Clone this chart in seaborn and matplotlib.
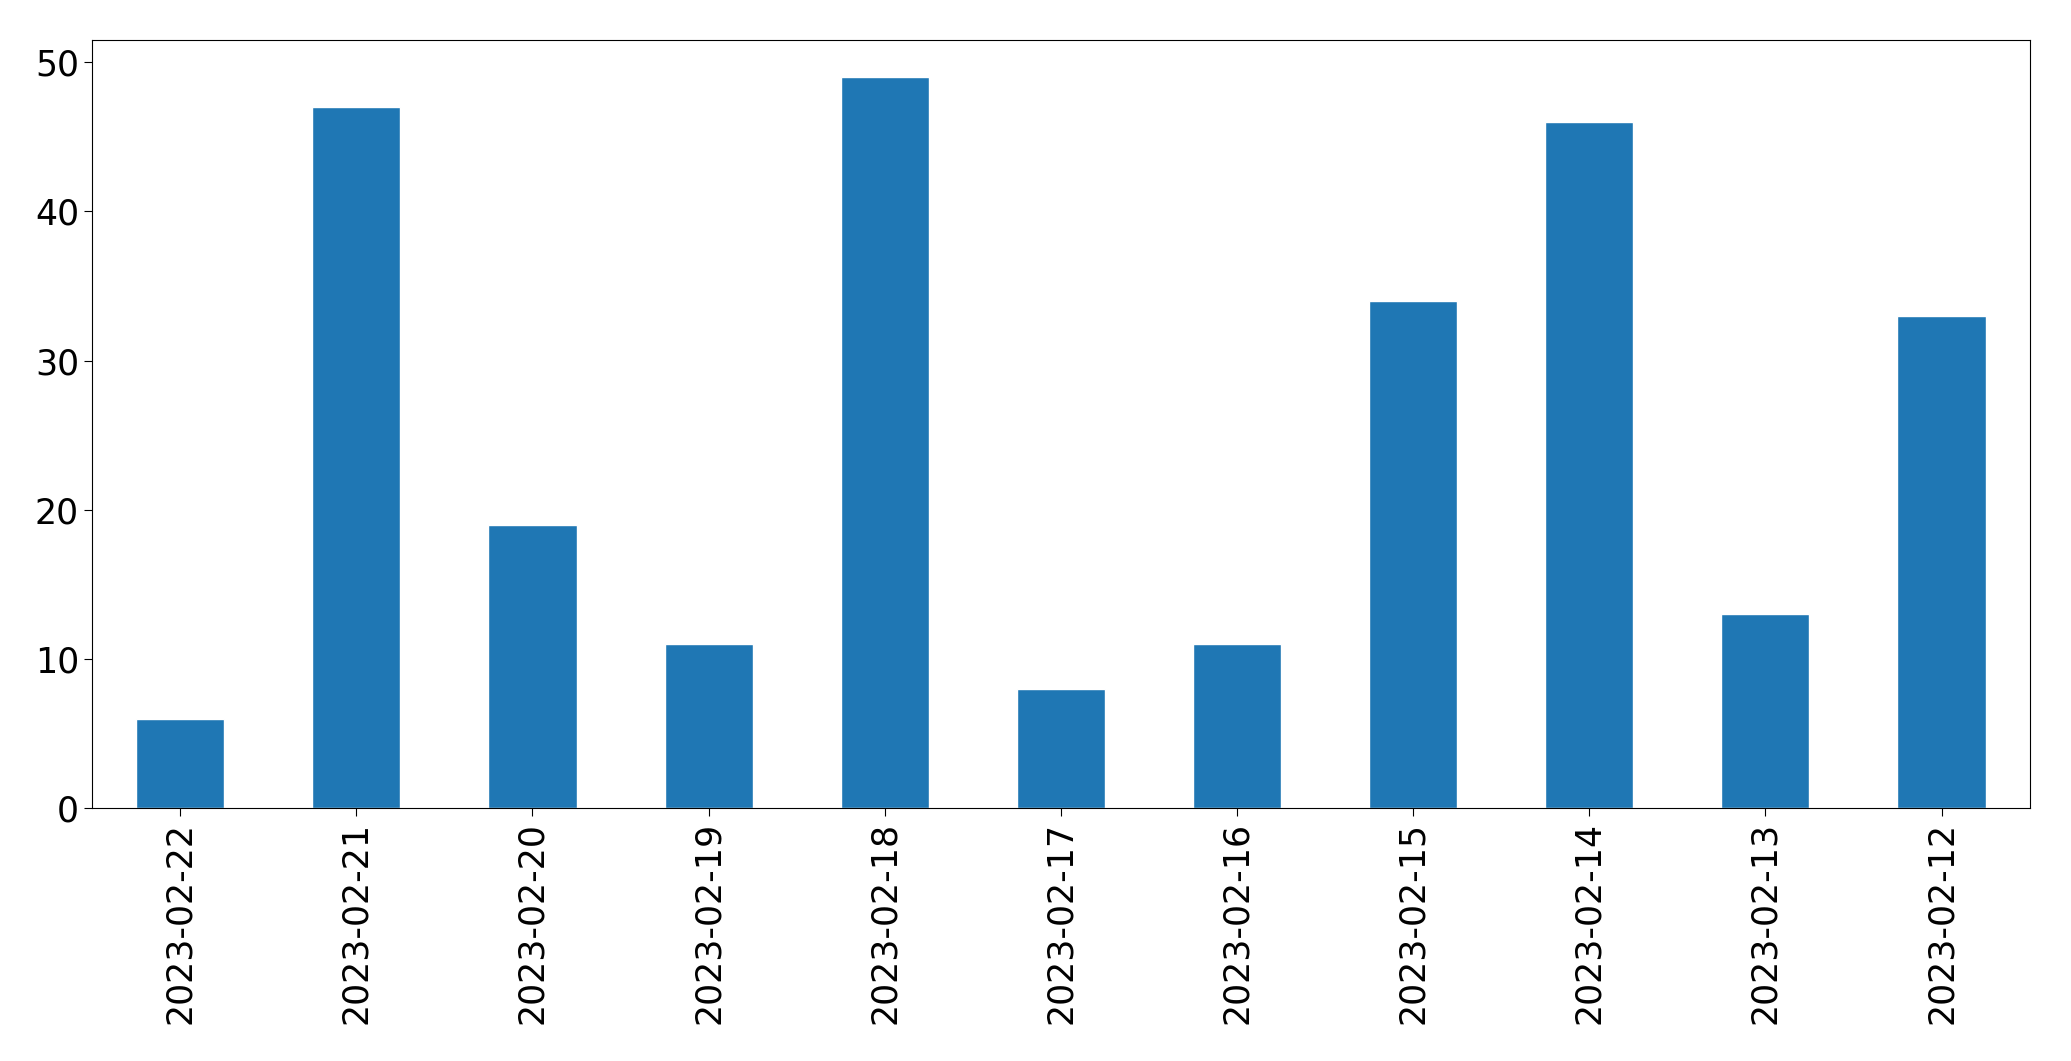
import matplotlib
matplotlib.use("Agg")
import matplotlib.pyplot as plt
import pandas as pd
import seaborn as sns

# data
dates = ["2023-02-22", "2023-02-21", "2023-02-20", "2023-02-19", "2023-02-18", "2023-02-17",
         "2023-02-16", "2023-02-15", "2023-02-14", "2023-02-13", "2023-02-12"]
counts = [6, 47, 19, 11, 49, 8, 11, 34, 46, 13, 33]

df = pd.DataFrame({"date": dates, "count": counts})

sns.set_style("ticks")
plt.rcParams["font.family"] = ["DejaVu Sans"]

fig, ax = plt.subplots(figsize=(20.71, 10.61), dpi=100)
sns.barplot(data=df, x="date", y="count", order=dates, color="#1f77b4",
            saturation=1, width=0.5, ax=ax)
ax.set_xlim(-0.5, len(dates) - 0.5)
ax.set_ylim(0, max(counts) * 1.05)
ax.set_xlabel("")
ax.set_ylabel("")
ax.tick_params(axis="both", labelsize=25, length=6, colors="black")
ax.tick_params(axis="x", rotation=90)
for s in ax.spines.values():
    s.set_visible(True)
    s.set_color("black")

fig.subplots_adjust(left=0.0445, right=0.980, top=0.962, bottom=0.238)
fig.savefig("out.png", dpi=100)
